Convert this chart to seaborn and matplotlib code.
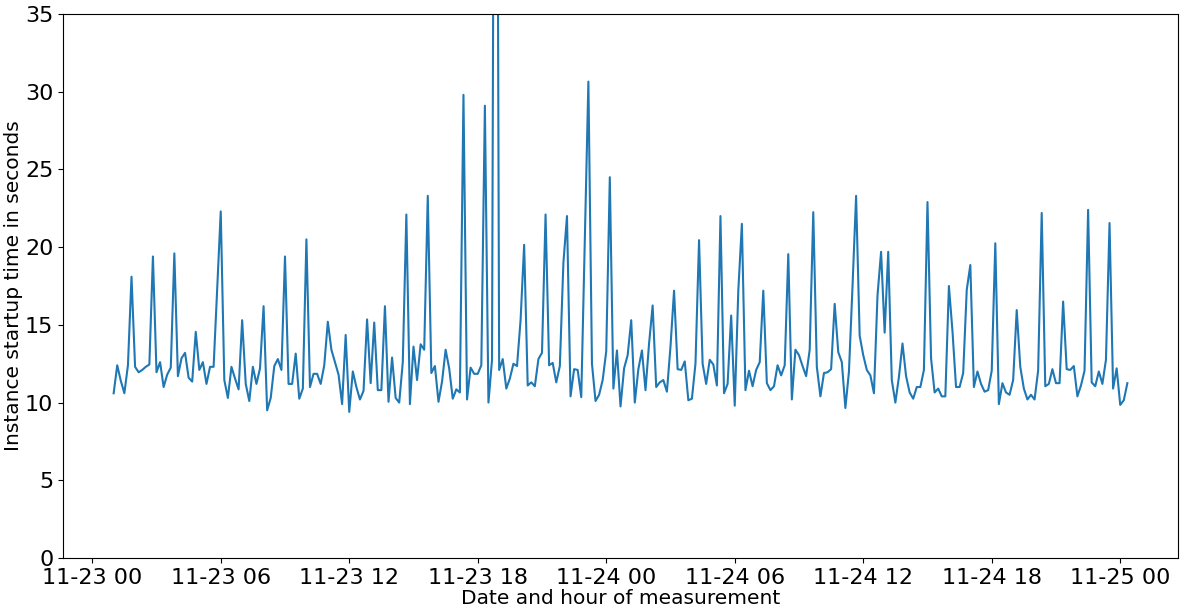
import matplotlib
matplotlib.use('Agg')
import matplotlib.pyplot as plt
import matplotlib.dates as mdates
import pandas as pd
import seaborn as sns

# one measurement every 10 minutes, starting 11-23 01:00
start_time = '2020-11-23 01:00'
step = '10min'

startup_seconds = [
    10.6, 12.4, 11.4, 10.6, 12.4, 18.1, 12.3, 11.95, 12.1, 12.3,
    12.45, 19.4, 11.95, 12.6, 11.0, 11.8, 12.25, 19.6, 11.7, 12.85,
    13.2, 11.6, 11.35, 14.55, 12.1, 12.6, 11.2, 12.3, 12.3, 17.3,
    22.3, 11.45, 10.3, 12.3, 11.55, 10.85, 15.3, 11.2, 10.1, 12.3,
    11.2, 12.2, 16.2, 9.5, 10.3, 12.35, 12.8, 12.1, 19.4, 11.2,
    11.2, 13.15, 10.25, 10.9, 20.5, 11.0, 11.85, 11.85, 11.2, 12.4,
    15.2, 13.4, 12.6, 11.8, 9.9, 14.35, 9.4, 12.0, 11.0, 10.2,
    10.75, 15.35, 11.25, 15.15, 10.8, 10.8, 16.2, 10.05, 12.9, 10.3,
    10.0, 12.6, 22.1, 9.9, 13.6, 11.45, 13.75, 13.4, 23.3, 11.9,
    12.35, 10.05, 11.35, 13.4, 12.2, 10.25, 10.85, 10.65, 29.8, 10.2,
    12.25, 11.85, 11.85, 12.4, 29.1, 10.0, 12.75, 85.0, 12.1, 12.8,
    10.9, 11.55, 12.5, 12.35, 15.3, 20.15, 11.1, 11.3, 11.05, 12.8,
    13.2, 22.1, 12.4, 12.55, 11.3, 12.35, 19.0, 22.0, 10.4, 12.15,
    12.1, 10.35, 20.5, 30.65, 12.5, 10.1, 10.5, 11.45, 13.3, 24.5,
    10.9, 13.35, 9.75, 12.2, 13.05, 15.3, 10.0, 12.15, 13.35, 10.8,
    13.8, 16.25, 11.0, 11.3, 11.45, 10.7, 13.6, 17.2, 12.15, 12.1,
    12.65, 10.15, 10.25, 12.5, 20.45, 12.5, 11.2, 12.75, 12.45, 11.1,
    22.0, 10.6, 11.2, 15.6, 9.8, 17.2, 21.5, 10.8, 12.05, 11.05,
    12.1, 12.6, 17.2, 11.25, 10.8, 11.05, 12.4, 11.75, 12.4, 19.55,
    10.2, 13.4, 13.05, 12.35, 11.7, 13.4, 22.25, 12.3, 10.4, 11.9,
    11.95, 12.15, 16.35, 13.25, 12.6, 9.65, 12.0, 17.5, 23.3, 14.3,
    13.05, 12.1, 11.75, 10.6, 16.9, 19.7, 14.5, 19.7, 11.45, 10.0,
    11.65, 13.8, 11.7, 10.65, 10.25, 11.0, 11.0, 12.1, 22.9, 12.85,
    10.65, 10.9, 10.4, 10.4, 17.5, 14.6, 11.0, 11.0, 11.9, 17.25,
    18.85, 11.0, 12.0, 11.2, 10.7, 10.8, 12.05, 20.25, 9.9, 11.25,
    10.65, 10.5, 11.45, 15.95, 12.3, 10.9, 10.2, 10.5, 10.2, 12.05,
    22.2, 11.05, 11.2, 12.15, 11.25, 11.25, 16.5, 12.15, 12.1, 12.35,
    10.4, 11.1, 12.05, 22.4, 11.3, 11.05, 12.0, 11.2, 12.75, 21.55,
    10.9, 12.2, 9.85, 10.15, 11.25,
]

times = pd.date_range(start_time, periods=len(startup_seconds), freq=step)
df = pd.DataFrame({'time': times, 'seconds': startup_seconds})

fig, ax = plt.subplots(figsize=(11.86, 6.14), dpi=100)
fig.subplots_adjust(left=0.0531, right=0.9933, top=0.9772, bottom=0.0912)

sns.lineplot(data=df, x='time', y='seconds', ax=ax, color='#1f77b4', linewidth=1.5)

ax.set_ylim(0, 35)
ax.xaxis.set_major_locator(mdates.HourLocator(byhour=[0, 6, 12, 18]))
ax.xaxis.set_major_formatter(mdates.DateFormatter('%m-%d %H'))
ax.set_xlabel('Date and hour of measurement', fontsize=14.5, labelpad=1)
ax.set_ylabel('Instance startup time in seconds', fontsize=14.5, labelpad=1)
ax.tick_params(labelsize=16)

fig.savefig('out.png', dpi=100)
